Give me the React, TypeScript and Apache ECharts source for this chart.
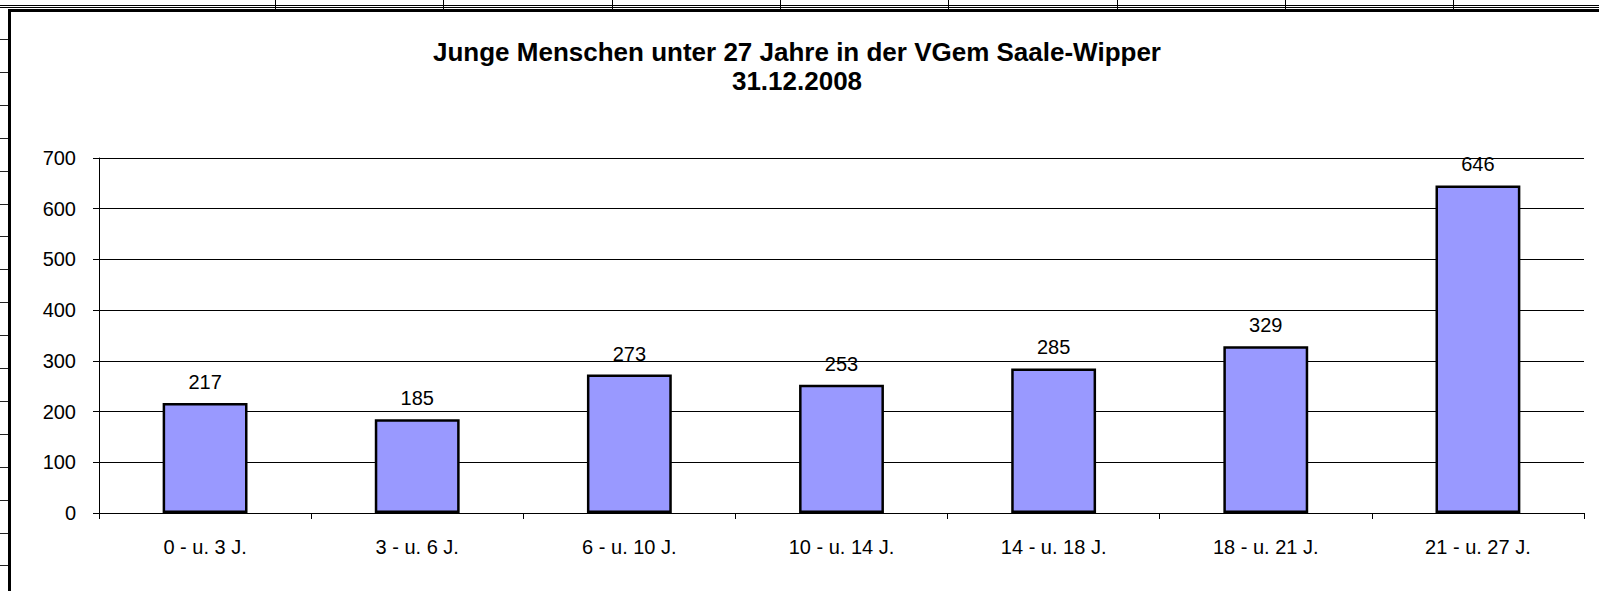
import React, { useEffect, useRef } from "react";
import * as echarts from "echarts";

const titleLine1 = "Junge Menschen unter 27 Jahre in der VGem Saale-Wipper";
const titleLine2 = "31.12.2008";
const categories = [
  "0 - u. 3 J.",
  "3 - u. 6 J.",
  "6 - u. 10 J.",
  "10 - u. 14 J.",
  "14 - u. 18 J.",
  "18 - u. 21 J.",
  "21 - u. 27 J.",
];
const values = [217, 185, 273, 253, 285, 329, 646];
const yTicks = { min: 0, max: 700, interval: 100 };

const FONT = "'Liberation Sans', Arial, sans-serif";

export default function App() {
  const ref = useRef<HTMLDivElement>(null);

  useEffect(() => {
    document.body.style.margin = "0";
    if (!ref.current) return;
    const chart = echarts.init(ref.current, null, { renderer: "svg" });

    const deco: any[] = [];
    // spreadsheet top double line
    deco.push({
      type: "line",
      shape: { x1: 0, y1: 5.5, x2: 1599, y2: 5.5 },
      style: { stroke: "#000", lineWidth: 1 },
      silent: true,
    });
    deco.push({
      type: "line",
      shape: { x1: 0, y1: 7.5, x2: 1599, y2: 7.5 },
      style: { stroke: "#000", lineWidth: 1 },
      silent: true,
    });
    // column separators at top
    for (let i = 0; i < 8; i++) {
      const x = Math.round(275 + i * 168.3) + 0.5;
      deco.push({
        type: "line",
        shape: { x1: x, y1: 0, x2: x, y2: 9 },
        style: { stroke: "#000", lineWidth: 1 },
        silent: true,
      });
    }
    // row separators at left
    for (let i = 0; i < 18; i++) {
      const y = Math.round(39 + i * 32.9) + 0.5;
      deco.push({
        type: "line",
        shape: { x1: 0, y1: y, x2: 8, y2: y },
        style: { stroke: "#222", lineWidth: 1 },
        silent: true,
      });
    }
    // chart frame
    deco.push({
      type: "rect",
      shape: { x: 9.5, y: 10.5, width: 1800, height: 800 },
      style: { stroke: "#000", lineWidth: 3, fill: "none" },
      silent: true,
    });
    // title
    deco.push({
      type: "text",
      x: 797,
      y: 37,
      style: {
        text: titleLine1 + "\n" + titleLine2,
        align: "center",
        verticalAlign: "top",
        fontFamily: FONT,
        fontSize: 26,
        fontWeight: "bold",
        fill: "#000",
        lineHeight: 29,
      },
      silent: true,
    });

    chart.setOption({
      animation: false,
      backgroundColor: "#fff",
      textStyle: { fontFamily: FONT },
      graphic: deco,
      grid: { left: 99, right: 15, top: 158, bottom: 78, containLabel: false },
      xAxis: {
        type: "category",
        data: categories,
        axisLine: { show: true, lineStyle: { color: "#000", width: 1 } },
        axisTick: { show: true, length: 6, alignWithLabel: false, lineStyle: { color: "#000" } },
        axisLabel: { fontFamily: FONT, fontSize: 20, color: "#000", margin: 24, interval: 0 },
        splitLine: { show: false },
      },
      yAxis: {
        type: "value",
        min: yTicks.min,
        max: yTicks.max,
        interval: yTicks.interval,
        axisLine: { show: true, lineStyle: { color: "#000", width: 1 } },
        axisTick: { show: true, length: 6, inside: false, lineStyle: { color: "#000" } },
        axisLabel: { fontFamily: FONT, fontSize: 20, color: "#000", margin: 23 },
        splitLine: { show: true, lineStyle: { color: "#000", width: 1 } },
      },
      series: [
        {
          type: "bar",
          data: values,
          barCategoryGap: "60%",
          itemStyle: { color: "#9999FF", borderColor: "#000", borderWidth: 2.5 },
          label: {
            show: true,
            position: "top",
            distance: 11,
            fontFamily: FONT,
            fontSize: 20,
            color: "#000",
          },
        },
      ],
    });

    return () => chart.dispose();
  }, []);

  return <div ref={ref} style={{ width: 1599, height: 591 }} />;
}
